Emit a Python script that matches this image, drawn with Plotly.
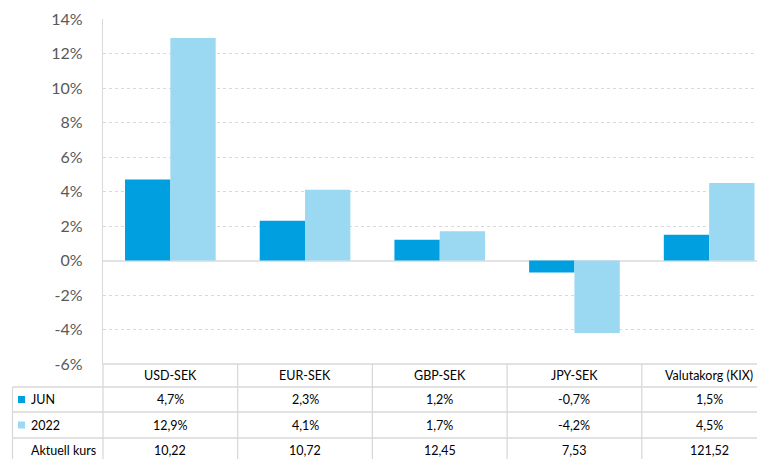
import plotly.graph_objects as go

categories = ["USD-SEK", "EUR-SEK", "GBP-SEK", "JPY-SEK", "Valutakorg (KIX)"]
jun = [4.7, 2.3, 1.2, -0.7, 1.5]
y2022 = [12.9, 4.1, 1.7, -4.2, 4.5]
kurs = [10.22, 10.72, 12.45, 7.53, 121.52]
series_names = ["JUN", "2022", "Aktuell kurs"]
y_ticks = [-6, -4, -2, 0, 2, 4, 6, 8, 10, 12, 14]
colors = ["#009FE0", "#9BD9F2"]

W, H = 757, 459
L, R, T, B = 103, 0, 19, 95
plot_h = H - T - B

def py(px):
    # pixel y -> paper y
    return (H - B - px) / plot_h

def pxx(px):
    return (px - L) / (W - L - R)

x_idx = list(range(len(categories)))
fig = go.Figure()
fig.add_bar(x=x_idx, y=jun, name=series_names[0], marker_color=colors[0],
            marker_line_width=0)
fig.add_bar(x=x_idx, y=y2022, name=series_names[1], marker_color=colors[1],
            marker_line_width=0)

grid = "#D9D9D9"
txt_font = dict(family="Lato, Carlito, sans-serif", size=12.5, color="#000000")

# table geometry (pixels)
row_edges = [364, 387, 412, 438, 463]
row_centers = [(row_edges[i] + row_edges[i + 1]) / 2 for i in range(4)]
shapes = []
annotations = []
for i, yy in enumerate(row_edges):
    x0 = pxx(12.5) if i >= 1 else 0
    shapes.append(dict(type="line", xref="paper", yref="paper", x0=x0,
                       x1=1.2, y0=py(yy), y1=py(yy), line=dict(color=grid, width=1.3)))
for k in range(len(categories)):
    shapes.append(dict(type="line", xref="x", yref="paper", x0=k + 0.5, x1=k + 0.5,
                       y0=py(364), y1=py(470), line=dict(color=grid, width=1.3)))
shapes.append(dict(type="line", xref="paper", yref="paper", x0=0, x1=0,
                   y0=py(364), y1=py(470), line=dict(color=grid, width=1.3)))
shapes.append(dict(type="line", xref="paper", yref="paper", x0=pxx(12.5), x1=pxx(12.5),
                   y0=py(387), y1=py(470), line=dict(color=grid, width=1.3)))

def fmt(v, pct):
    s = f"{v:.1f}%" if pct else f"{v:.2f}"
    return s.replace(".", ",")

rows = [categories, [fmt(v, True) for v in jun], [fmt(v, True) for v in y2022],
        [fmt(v, False) for v in kurs]]
for r, vals in enumerate(rows):
    for k, v in enumerate(vals):
        annotations.append(dict(x=k, y=py(row_centers[r]), xref="x", yref="paper",
                                text=v, showarrow=False, font=txt_font,
                                xanchor="center", yanchor="middle"))
for r in range(1, 4):
    annotations.append(dict(x=pxx(29), y=py(row_centers[r]), xref="paper",
                            yref="paper", text=series_names[r - 1], showarrow=False,
                            font=txt_font, xanchor="left", yanchor="middle"))
for r in range(1, 3):
    cy = row_centers[r]
    shapes.append(dict(type="rect", xref="paper", yref="paper",
                       x0=pxx(18), x1=pxx(25),
                       y0=py(cy + 3.5), y1=py(cy - 3.5), fillcolor=colors[r - 1],
                       line=dict(width=0)))

cat_w = 134.7
span = (W - L - R) / cat_w
fig.update_layout(
    width=W, height=H,
    margin=dict(l=L, r=R, t=T, b=B),
    paper_bgcolor="white", plot_bgcolor="white",
    barmode="group", bargap=0.327, bargroupgap=0,
    showlegend=False,
    xaxis=dict(range=[-0.5, -0.5 + span], showticklabels=False, showgrid=False,
               zeroline=False, showline=False, fixedrange=True),
    yaxis=dict(range=[-6, 14], tickvals=y_ticks,
               ticktext=[f"{v}%" for v in y_ticks], showgrid=True,
               gridcolor=grid, griddash="dot", gridwidth=1,
               zeroline=True, zerolinecolor="#E3E3E3", zerolinewidth=2,
               showline=True, linecolor=grid, linewidth=1.3,
               ticklabelstandoff=16,
               tickfont=dict(family="Lato, Carlito, sans-serif", size=16, color="#595959")),
    shapes=shapes, annotations=annotations,
)
fig.write_html("out.html", config={"displayModeBar": False},
               post_script="document.body.style.margin='0';document.body.style.overflow='hidden';")
